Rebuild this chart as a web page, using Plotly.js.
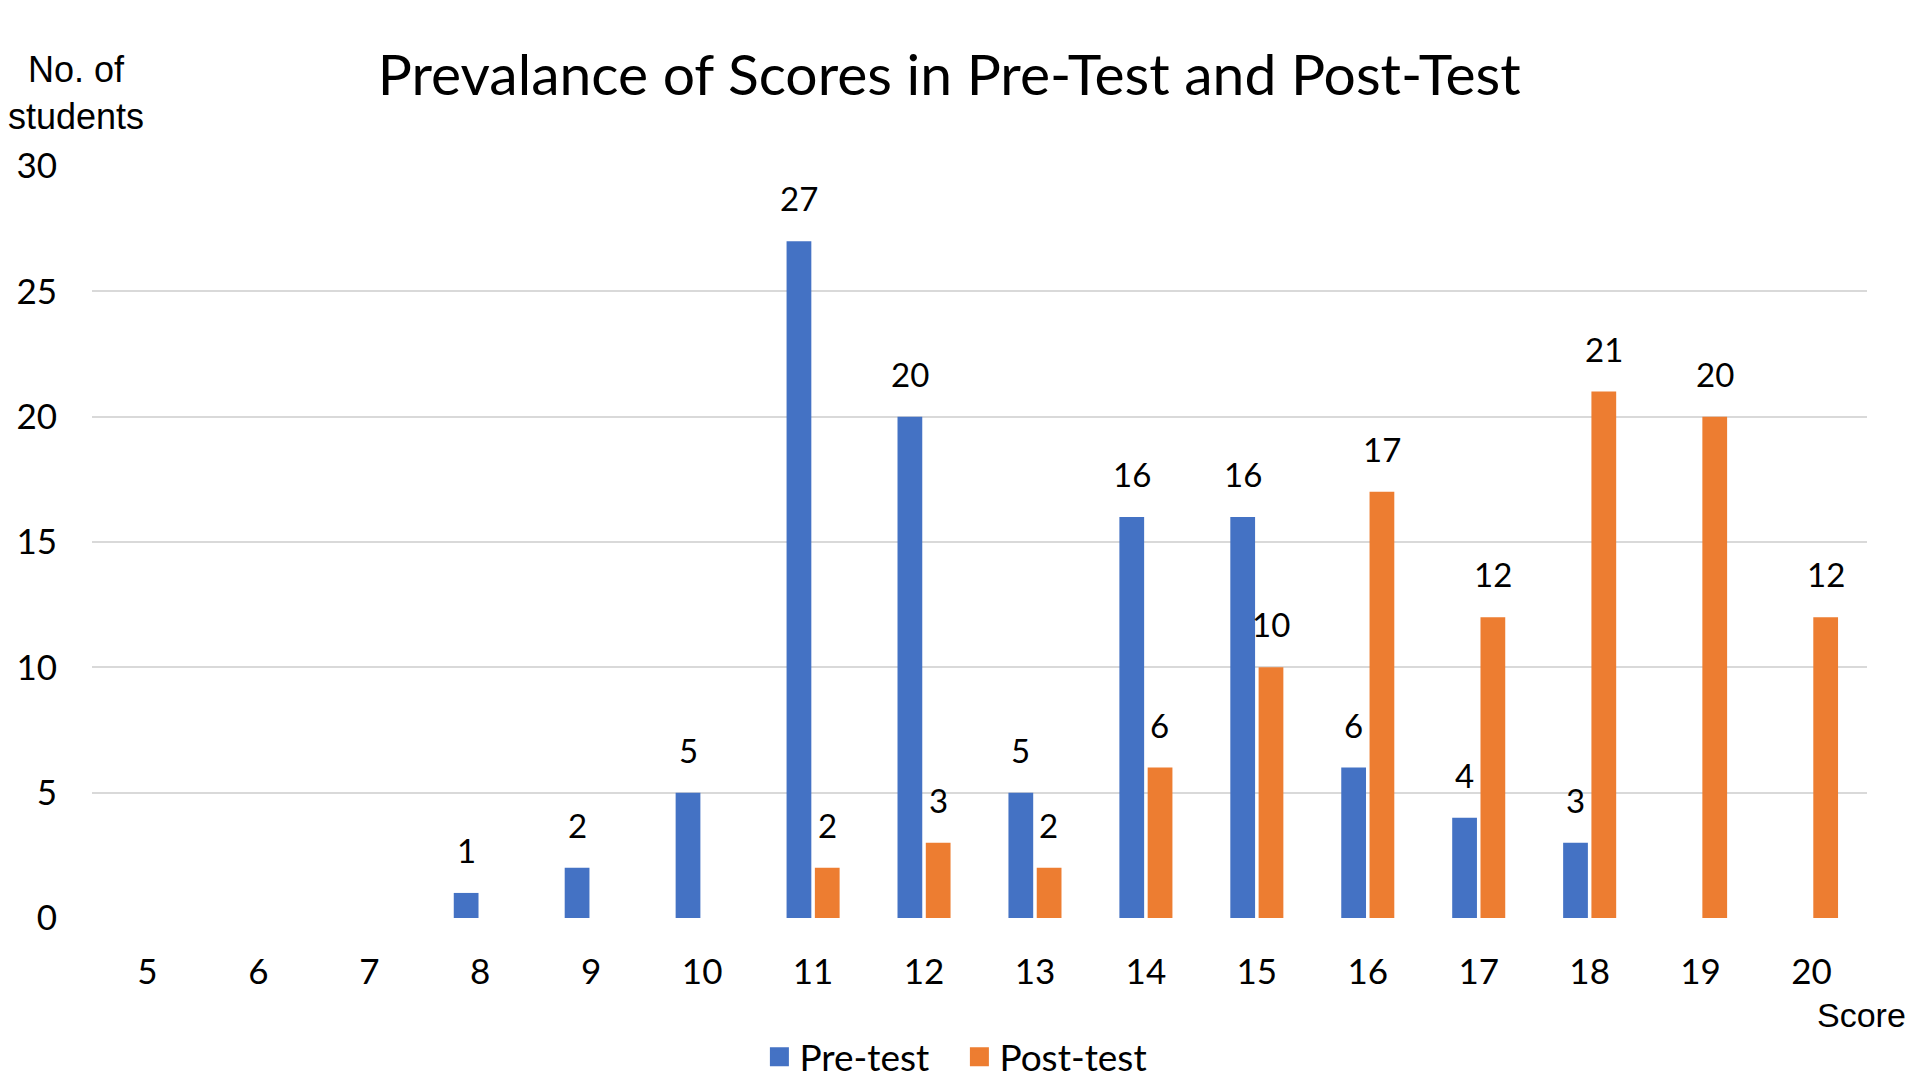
<!DOCTYPE html>
<html>
<head>
<meta charset="utf-8">
<script src="https://cdn.plot.ly/plotly-3.0.1.min.js"></script>
<style>html,body{margin:0;padding:0;background:#fff;}#chart{width:1910px;height:1079px;}</style>
</head>
<body>
<div id="chart"></div>
<script>
const scores = ['5','6','7','8','9','10','11','12','13','14','15','16','17','18','19','20'];
const preTest = [null,null,null,1,2,5,27,20,5,16,16,6,4,3,null,null];
const postTest = [null,null,null,null,null,null,2,3,2,6,10,17,12,21,20,12];
const seriesNames = ['Pre-test','Post-test'];
const yTicks = [0,5,10,15,20,25,30];

const C = "Lato, 'Open Sans', sans-serif";
const A = "'Liberation Sans', Arial, sans-serif";
const colors = ['#4472C4','#ED7D31'];

const traces = [preTest, postTest].map((vals, i) => ({
  type: 'bar', x: scores, y: vals, name: seriesNames[i],
  marker: {color: colors[i]}, hoverinfo: 'x+y', showlegend: false
}));
// legend entries with larger square swatches
seriesNames.forEach((n, i) => traces.push({
  type: 'scatter', mode: 'markers', x: [scores[0]], y: [null], name: n,
  marker: {symbol: 'square', size: 20, color: colors[i], line: {color: colors[i], width: 3}}, hoverinfo: 'skip'
}));

// value labels placed above each bar, offset to the bar's slot in the group
const annotations = [];
const slotShift = 14;
[preTest, postTest].forEach((vals, i) => {
  vals.forEach((v, j) => {
    if (v === null) return;
    annotations.push({
      x: j, y: v, xref: 'x', yref: 'y', text: String(v), showarrow: false,
      xshift: i === 0 ? -slotShift : slotShift, yshift: 43, yanchor: 'middle',
      font: {family: C, size: 33, color: '#000'}
    });
  });
});
annotations.push({
  xref: 'paper', yref: 'paper', x: -0.009, y: 1.097, text: 'No. of<br>students',
  showarrow: false, xanchor: 'center', yanchor: 'middle',
  font: {family: A, size: 36, color: '#000'}, align: 'center'
});
annotations.push({
  xref: 'paper', yref: 'paper', x: 0.997, y: -0.129, text: 'Score',
  showarrow: false, xanchor: 'center', yanchor: 'middle',
  font: {family: A, size: 34, color: '#000'}
});

const layout = {
  width: 1910, height: 1079,
  margin: {l: 92, r: 43, t: 166, b: 161, autoexpand: false},
  paper_bgcolor: '#fff', plot_bgcolor: '#fff',
  title: {text: 'Prevalance of Scores in Pre-Test and Post-Test', x: 0.497, xanchor: 'center', y: 0.930, yanchor: 'middle',
          font: {family: C, size: 57, color: '#000'}},
  barmode: 'group', bargap: 0.49, bargroupgap: 0.125,
  xaxis: {type: 'category', categoryorder: 'array', categoryarray: scores, range: [-0.5, 15.5],
          showgrid: false, zeroline: false, showline: false, ticks: '', fixedrange: true,
          tickfont: {family: C, size: 35, color: '#000'}, ticklabelstandoff: 30},
  yaxis: {range: [0, 30], tickvals: yTicks, ticktext: yTicks.map(String), fixedrange: true,
          showgrid: true, gridcolor: '#d9d9d9', gridwidth: 2, zeroline: false, showline: false, ticks: '',
          tickfont: {family: C, size: 35, color: '#000'}, ticklabelstandoff: 34},
  showlegend: true,
  legend: {orientation: 'h', x: 0.376, xanchor: 'left', y: -0.185, yanchor: 'middle', entrywidth: 155,
           font: {family: C, size: 37, color: '#000'}, itemwidth: 30, tracegroupgap: 0, itemsizing: 'trace'},
  annotations: annotations
};

Plotly.newPlot('chart', traces, layout, {displayModeBar: false});
</script>
</body>
</html>
